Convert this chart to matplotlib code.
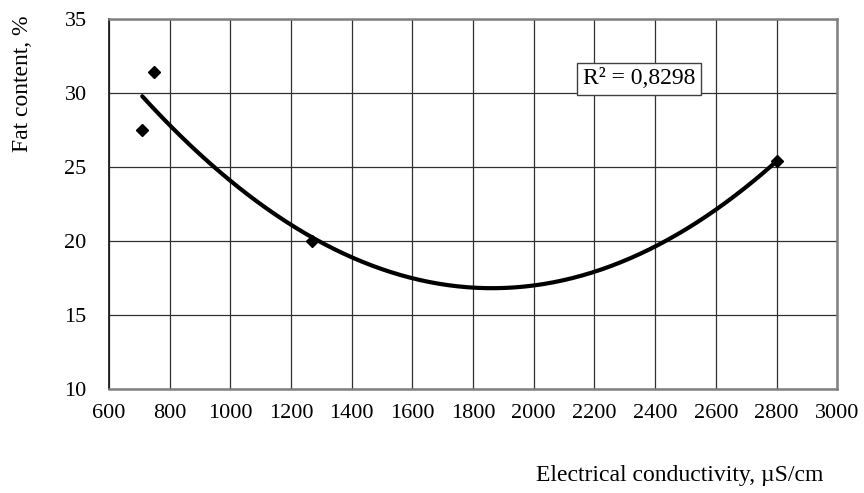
import numpy as np
import matplotlib
matplotlib.use("Agg")
from matplotlib import pyplot as plt

plt.rcParams['font.family'] = ['Liberation Serif', 'DejaVu Serif']

# measured points
conductivity = [710, 750, 1270, 2800]
fat = [27.5, 31.4, 20.0, 25.4]
r2_label = "R\u00b2 = 0,8298"
xticks = list(range(600, 3001, 200))
yticks = [10, 15, 20, 25, 30, 35]

# quadratic trend line, as the spreadsheet would draw it
coef = np.polyfit(conductivity, fat, 2)
xs = np.linspace(min(conductivity), max(conductivity), 200)
ys = np.polyval(coef, xs)

fig = plt.figure(figsize=(8.64, 4.93), dpi=100)
ax = fig.add_axes([0.126, 0.211, 0.843, 0.7505])

ax.plot(xs, ys, color='black', lw=3.0, solid_capstyle='round', zorder=3)
ax.plot(conductivity, fat, 'D', color='black', markersize=6.5, zorder=4)

ax.set_xlim(600, 3000)
ax.set_ylim(10, 35)
ax.set_xticks(xticks)
ax.set_yticks(yticks)
ax.grid(True, color='#303030', lw=0.9)
ax.tick_params(length=0, labelsize=16)
ax.tick_params(axis='x', pad=11)
ax.tick_params(axis='y', pad=16)
for s in ax.spines.values():
    s.set_color('#808080')
    s.set_linewidth(1.8)
ax.spines['left'].set_color('#202020')
ax.spines['left'].set_linewidth(1.3)

ax.text(2348, 30.95, r2_label, fontsize=17, ha='center', va='center',
        bbox=dict(facecolor='white', edgecolor='#404040', lw=1.0, pad=4), zorder=5)

fig.text(0.026, 0.83, "Fat content, %", rotation=90, fontsize=17, ha='center', va='center')
fig.text(0.787, 0.035, "Electrical conductivity, \u00b5S/cm", fontsize=17, ha='center', va='center')

fig.savefig("out.png", dpi=100)
